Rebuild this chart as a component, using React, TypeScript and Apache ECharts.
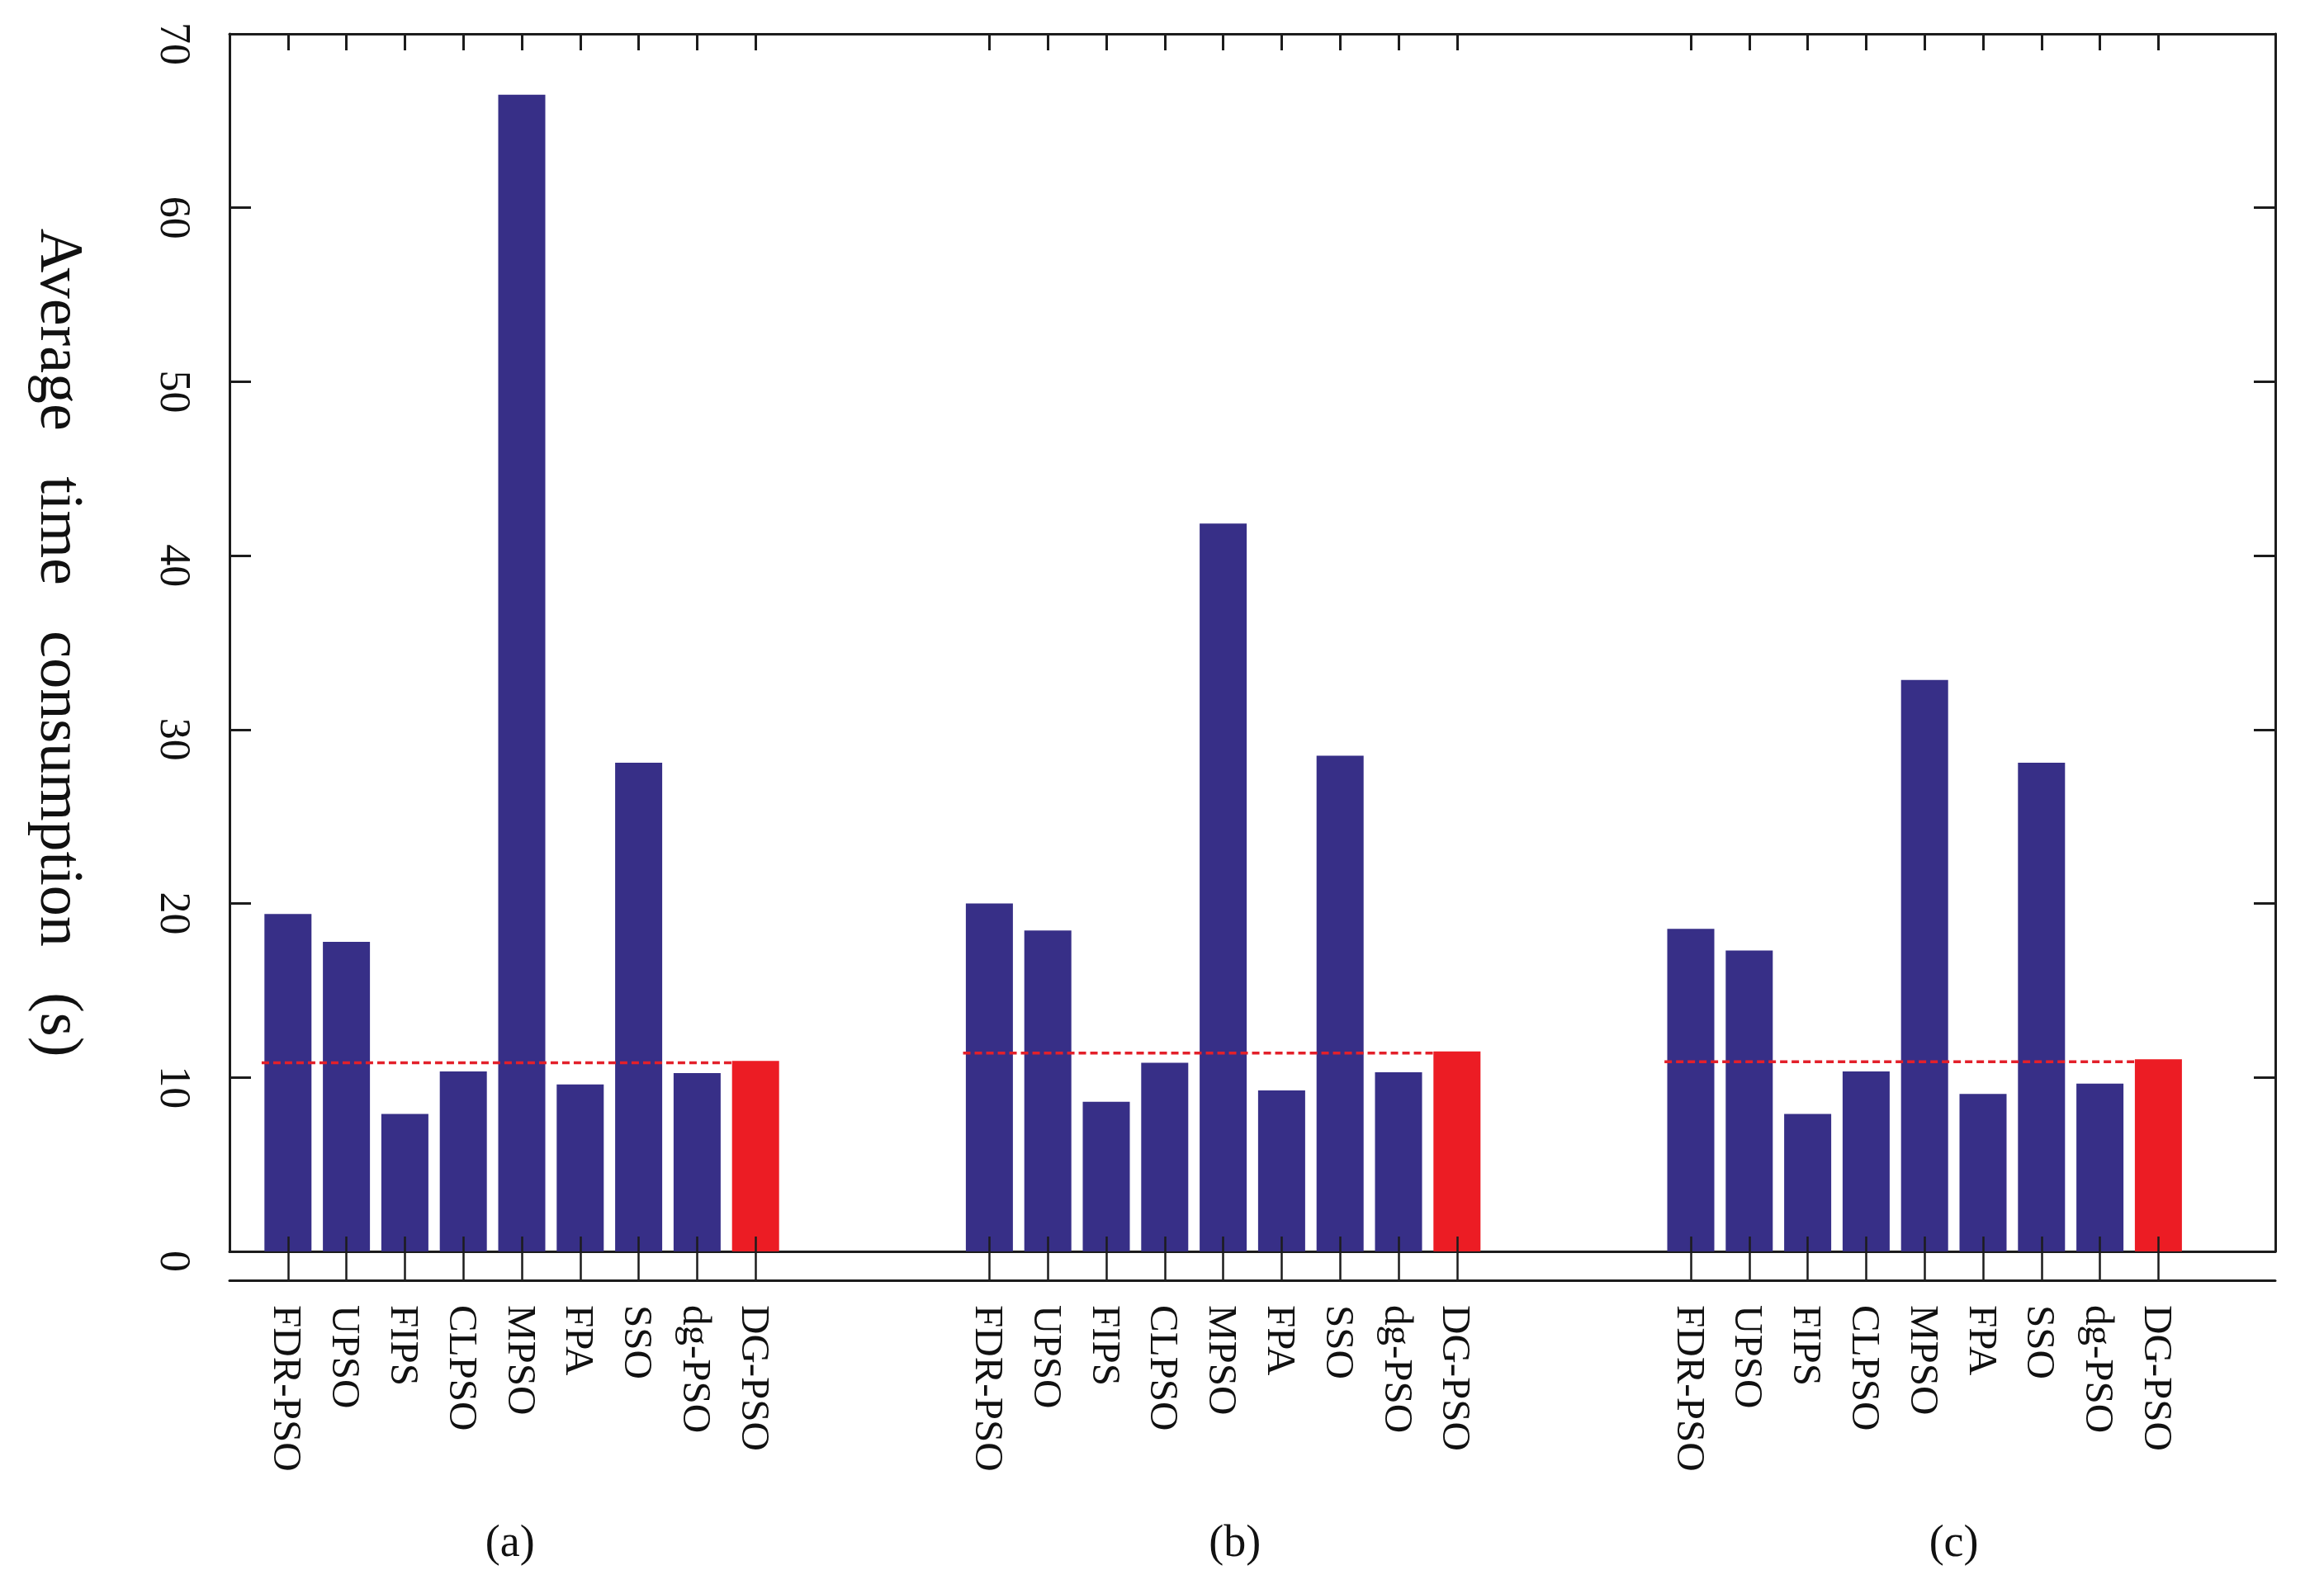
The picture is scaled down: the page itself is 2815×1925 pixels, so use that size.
import React, { useEffect, useRef } from "react";
import * as echarts from "echarts";

const algorithms = ["FDR-PSO", "UPSO", "FIPS", "CLPSO", "MPSO", "FPA", "SSO", "dg-PSO", "DG-PSO"];
const groupA = [19.4, 17.8, 7.9, 10.35, 66.5, 9.6, 28.1, 10.25, 10.95];
const groupB = [20.0, 18.45, 8.6, 10.85, 41.85, 9.25, 28.5, 10.3, 11.5];
const groupC = [18.55, 17.3, 7.9, 10.35, 32.85, 9.05, 28.1, 9.65, 11.05];
const averages = [10.85, 11.4, 10.9];
const panelLabels = ["(a)", "(b)", "(c)"];
const panelLabelSlots = [3.8, 16.2, 28.5];
const groupStarts = [0, 12, 24];
const yTicks = [0, 10, 20, 30, 40, 50, 60, 70];

const BLUE = "#372F87";
const RED = "#EC1C24";
const INK = "#1c1c1c";
const FONT = "Liberation Serif";

export default function App() {
  const ref = useRef<HTMLDivElement>(null);
  useEffect(() => {
    const chart = echarts.init(ref.current!, null, { renderer: "svg" });
    const groups = [groupA, groupB, groupC];
    const slots: number[] = [];
    const slotNames: Record<number, string> = {};
    const barData: any[] = [];
    groups.forEach((vals, g) => {
      vals.forEach((v, i) => {
        const s = groupStarts[g] + i;
        slots.push(s);
        slotNames[s] = algorithms[i];
        barData.push({
          value: [s, v],
          itemStyle: { color: algorithms[i] === "DG-PSO" ? RED : BLUE },
        });
      });
    });
    const lineSeries = averages.map((a, g) => ({
      type: "line",
      xAxisIndex: 0,
      yAxisIndex: 0,
      z: 4,
      symbol: "none",
      silent: true,
      lineStyle: { color: "#E3202A", width: 3.5, type: [9, 5] },
      data: [
        [groupStarts[g] - 0.45, a],
        [groupStarts[g] + 7.6, a],
      ],
    }));
    const base = { type: "value", min: -1, max: 34, splitLine: { show: false } };
    const option: any = {
      animation: false,
      backgroundColor: "#ffffff",
      grid: { left: 278, right: 59, top: 41, bottom: 409, outerBoundsMode: "none" },
      xAxis: [
        {
          ...base,
          position: "bottom",
          axisLine: { show: true, onZero: false, lineStyle: { color: INK, width: 3 } },
          axisTick: { show: false },
          axisLabel: { show: false },
        },
        {
          ...base,
          position: "top",
          axisLine: { show: true, onZero: false, lineStyle: { color: INK, width: 3 } },
          axisTick: { show: true, inside: true, length: 20, customValues: slots, lineStyle: { color: INK, width: 3 } },
          axisLabel: { show: false },
        },
        {
          ...base,
          position: "bottom",
          offset: 35,
          z: 10,
          axisLine: { show: true, onZero: false, lineStyle: { color: INK, width: 3 } },
          axisTick: { show: true, inside: true, length: 53, customValues: slots, lineStyle: { color: INK, width: 2.5 } },
          axisLabel: {
            show: true,
            customValues: slots,
            rotate: -90,
            margin: 30,
            fontSize: 49,
            fontFamily: FONT,
            color: "#111",
            formatter: (v: number) => slotNames[Math.round(v)] ?? "",
          },
        },
        {
          ...base,
          position: "bottom",
          offset: 316,
          axisLine: { show: false },
          axisTick: { show: false },
          axisLabel: {
            show: true,
            customValues: panelLabelSlots,
            margin: 8,
            fontSize: 54,
            fontFamily: FONT,
            color: "#111",
            formatter: (v: number) => panelLabels[panelLabelSlots.indexOf(v)] ?? "",
          },
        },
      ],
      yAxis: [
        {
          type: "value",
          position: "left",
          min: 0,
          max: 70,
          interval: 10,
          splitLine: { show: false },
          axisLine: { show: true, onZero: false, lineStyle: { color: INK, width: 3 } },
          axisTick: { show: true, inside: true, length: 26, customValues: yTicks, lineStyle: { color: INK, width: 3 } },
          axisLabel: {
            show: true,
            rotate: -90,
            margin: 40,
            fontSize: 52,
            fontFamily: FONT,
            color: "#111",
            padding: [0, 0, 0, 24],
          },
          name: "Average   time   consumption   (s)",
          nameLocation: "middle",
          nameRotate: -90,
          nameGap: 166,
          nameTextStyle: { fontSize: 74, fontFamily: FONT, color: "#111" },
        },
        {
          type: "value",
          position: "right",
          min: 0,
          max: 70,
          interval: 10,
          splitLine: { show: false },
          axisLine: { show: true, onZero: false, lineStyle: { color: INK, width: 3 } },
          axisTick: { show: true, inside: true, length: 26, lineStyle: { color: INK, width: 3 } },
          axisLabel: { show: false },
        },
      ],
      series: [
        {
          type: "bar",
          xAxisIndex: 0,
          yAxisIndex: 0,
          barWidth: 57,
          z: 2,
          data: barData,
        },
        ...lineSeries,
      ],
    };
    chart.setOption(option);
    return () => chart.dispose();
  }, []);
  return (
    <div
      ref={ref}
      style={{ position: "absolute", left: 0, top: 0, width: 2815, height: 1925, background: "#fff" }}
    />
  );
}
